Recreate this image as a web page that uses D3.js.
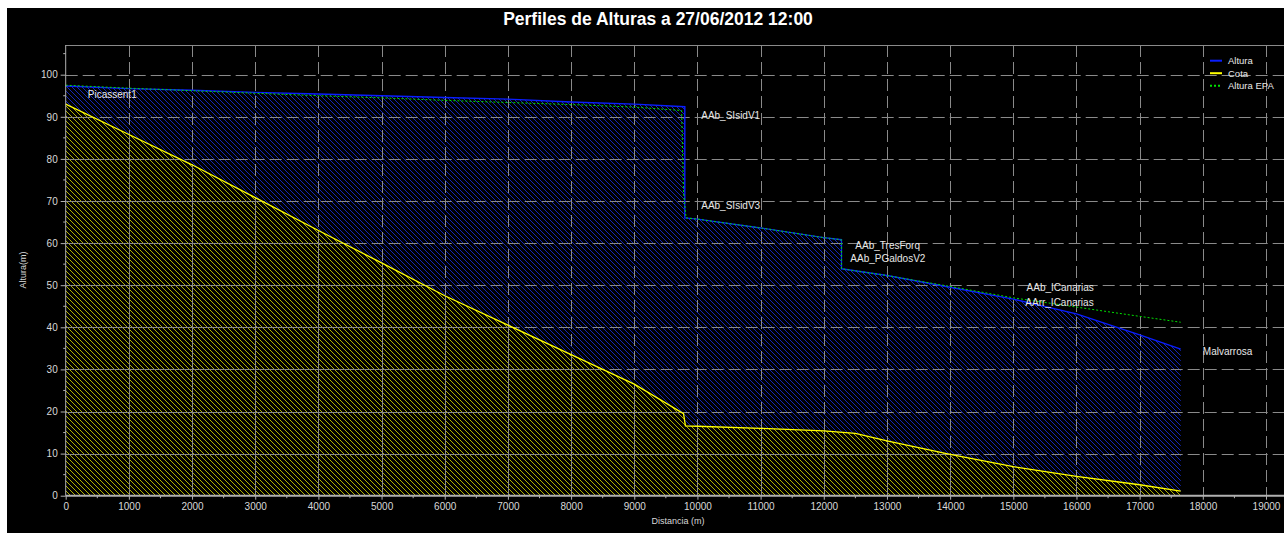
<!DOCTYPE html>
<html>
<head>
<meta charset="utf-8">
<script src="https://cdn.jsdelivr.net/npm/d3@7"></script>
<style>
body { margin: 0; background: #fff; }
svg { display: block; font-family: "Liberation Sans", Arial, sans-serif; }
</style>
</head>
<body>
<svg id="chart" width="1284" height="533"></svg>
<script>
// distancia (m) / altura (m)
var alturaDist = [0, 1000, 2000, 3000, 4000, 5000, 6000, 7000, 8000, 9000, 9800, 9800, 10000, 11000, 12000, 12280, 12280, 13000, 14000, 15000, 16000, 17000, 17650];
var alturaVal  = [97.3, 96.7, 96.3, 95.8, 95.4, 95.0, 94.6, 94.2, 93.5, 93.0, 92.4, 66.0, 65.7, 63.6, 61.3, 60.8, 53.9, 52.3, 49.5, 46.7, 43.2, 38.2, 34.8];

var epaDist = [0, 1000, 2000, 3000, 4000, 5000, 6000, 7000, 8000, 9000, 9750, 9780, 9820, 10000, 11000, 12000, 12280, 12280, 13000, 14000, 15000, 16000, 17000, 17650];
var epaVal  = [97.5, 96.8, 96.2, 95.6, 95.0, 94.5, 93.9, 93.4, 92.9, 92.3, 91.5, 72.0, 66.0, 65.7, 63.6, 61.3, 60.8, 53.9, 52.3, 49.7, 47.0, 44.8, 42.6, 41.2];

var cotaDist = [0, 1000, 2000, 3000, 4000, 5000, 6000, 7000, 8000, 9000, 9780, 9810, 10000, 11000, 12000, 12500, 13000, 14000, 15000, 16000, 17000, 17650];
var cotaVal  = [93.0, 85.8, 78.6, 70.8, 63.0, 55.3, 47.5, 40.5, 33.5, 26.5, 19.5, 16.6, 16.5, 16.0, 15.4, 14.8, 13.0, 9.8, 6.9, 4.6, 2.6, 1.1];

// node labels: name, distance, height where the label sits
var nodeNames = ["Picassent1", "AAb_SIsidV1", "AAb_SIsidV3", "AAb_TresForq", "AAb_PGaldosV2", "AAb_ICanarias", "AArr_ICanarias", "Malvarrosa"];
var nodeDist  = [350, 10060, 10060, 12500, 12420, 15210, 15190, 18000];
var nodeAlt   = [94.5, 89.5, 68.0, 58.7, 55.5, 48.7, 45.0, 33.4];

var xTicks = d3.range(0, 19001, 1000);
var yTicks = d3.range(0, 101, 10);
var legendNames = ["Altura", "Cota", "Altura EPA"];

var svg = d3.select("#chart");
var W = 1284, H = 533;
var plotL = 65.7, plotR = 1284, plotT = 45, plotB = 495.7;

var x = d3.scaleLinear().domain([0, 19000]).range([plotL, 1266]);
var y = d3.scaleLinear().domain([0, 100]).range([plotB, 74.7]);

svg.append("rect").attr("x", 7).attr("y", 8).attr("width", W - 7).attr("height", H - 8).attr("fill", "#000");

var defs = svg.append("defs");
function hatch(id, color) {
	var p = defs.append("pattern").attr("id", id)
		.attr("patternUnits", "userSpaceOnUse").attr("width", 5).attr("height", 5);
	p.append("path").attr("d", "M-1,-1 L6,6 M4,-1 L6,1 M-1,4 L1,6")
		.attr("stroke", color).attr("stroke-width", 1).attr("shape-rendering", "crispEdges");
}
hatch("hBlue", "#1528b8");
hatch("hYellow", "#b0b000");

function pts(ds, vs) { return ds.map(function(d, i) { return [d, vs[i]]; }); }
var altura = pts(alturaDist, alturaVal);
var epa = pts(epaDist, epaVal);
var cota = pts(cotaDist, cotaVal);

var area = d3.area().x(function(d){ return x(d[0]); }).y0(y(0)).y1(function(d){ return y(d[1]); });
var line = d3.line().x(function(d){ return x(d[0]); }).y(function(d){ return y(d[1]); });

defs.append("clipPath").attr("id", "cotaClip").append("path").attr("d", area(cota));

// fills
svg.append("path").attr("d", area(altura)).attr("fill", "url(#hBlue)");
svg.append("path").attr("d", area(cota)).attr("fill", "url(#hYellow)");

// grid
function drawGrid(g, dash) {
	g.selectAll(".gx").data(xTicks.slice(1)).enter().append("line").attr("class", "gx")
		.attr("x1", function(d){ return Math.round(x(d)) + 0.5; }).attr("x2", function(d){ return Math.round(x(d)) + 0.5; })
		.attr("y1", plotT).attr("y2", plotB).attr("stroke-dasharray", dash);
	g.selectAll(".gy").data(yTicks.slice(1)).enter().append("line").attr("class", "gy")
		.attr("y1", function(d){ return Math.round(y(d)) + 0.5; }).attr("y2", function(d){ return Math.round(y(d)) + 0.5; })
		.attr("x1", plotL).attr("x2", plotR).attr("stroke-dasharray", dash);
}
drawGrid(svg.append("g").attr("stroke", "#8a8a8a"), "12,5");
drawGrid(svg.append("g").attr("stroke", "#8a8a8a").attr("clip-path", "url(#cotaClip)"), null);

// lines
svg.append("path").attr("d", line(altura)).attr("fill", "none").attr("stroke", "#0a1eff").attr("stroke-width", 1.4);
svg.append("path").attr("d", line(cota)).attr("fill", "none").attr("stroke", "#ffff00").attr("stroke-width", 1.3);
svg.append("path").attr("d", line(epa)).attr("fill", "none").attr("stroke", "#00e000").attr("stroke-width", 1).attr("stroke-dasharray", "2,2");

// plot frame top line
svg.append("line").attr("x1", plotL).attr("x2", plotR).attr("y1", plotT + 0.5).attr("y2", plotT + 0.5).attr("stroke", "#8a8a8a");

// axes
var xAxis = d3.axisBottom(x).tickValues(xTicks).tickSize(4).tickPadding(3).tickFormat(d3.format("d"));
var gx = svg.append("g").attr("transform", "translate(0," + plotB + ")").call(xAxis);
var yAxis = d3.axisLeft(y).tickValues(yTicks).tickSize(5).tickPadding(3);
var gy = svg.append("g").attr("transform", "translate(" + plotL + ",0)").call(yAxis);
[gx, gy].forEach(function(g) {
	g.select(".domain").attr("stroke", "#b0b0b0");
	g.selectAll(".tick line").attr("stroke", "#b0b0b0");
	g.selectAll("text").attr("fill", "#d8d8d8").attr("font-size", 10).attr("font-family", "Liberation Sans, Arial, sans-serif");
});
gx.select(".domain").attr("stroke-width", 2).attr("d", "M" + plotL + ",0H" + plotR);
gy.select(".domain").attr("d", "M0," + plotT + "V" + plotB);

// minor ticks
svg.append("g").selectAll("line").data(d3.range(500, 19500, 1000)).enter().append("line")
	.attr("x1", function(d){ return x(d); }).attr("x2", function(d){ return x(d); })
	.attr("y1", plotB).attr("y2", plotB + 2.5).attr("stroke", "#b0b0b0");
svg.append("g").selectAll("line").data(d3.range(5, 106, 10)).enter().append("line")
	.attr("x1", plotL - 2.5).attr("x2", plotL).attr("y1", function(d){ return y(d); }).attr("y2", function(d){ return y(d); })
	.attr("stroke", "#b0b0b0");

// node labels
svg.append("g").selectAll("text").data(nodeNames).enter().append("text")
	.attr("x", function(d, i){ return x(nodeDist[i]); })
	.attr("y", function(d, i){ return y(nodeAlt[i]); })
	.attr("fill", "#e8e8e8").attr("font-size", 10).text(function(d){ return d; });

// title and axis titles
svg.append("text").attr("x", 658).attr("y", 25).attr("text-anchor", "middle")
	.attr("fill", "#fff").attr("font-weight", "bold").attr("font-size", 17.5)
	.attr("font-family", "Liberation Sans, Arial, sans-serif")
	.text("Perfiles de Alturas a 27/06/2012 12:00");
svg.append("text").attr("x", 678).attr("y", 524).attr("text-anchor", "middle")
	.attr("fill", "#d8d8d8").attr("font-size", 9).text("Distancia (m)");
svg.append("text").attr("transform", "translate(26,270) rotate(-90)").attr("text-anchor", "middle")
	.attr("fill", "#d8d8d8").attr("font-size", 9).text("Altura(m)");

// legend
var legColors = ["#0a1eff", "#ffff00", "#00e000"];
var leg = svg.append("g").attr("transform", "translate(1210,60.7)");
legendNames.forEach(function(n, i) {
	var gi = leg.append("g").attr("transform", "translate(0," + (i * 12.5) + ")");
	gi.append("line").attr("x1", 0).attr("x2", 12).attr("y1", 0).attr("y2", 0)
		.attr("stroke", legColors[i]).attr("stroke-width", 2)
		.attr("stroke-dasharray", i == 2 ? "2,2" : null);
	gi.append("text").attr("x", 18).attr("y", 3.5).attr("fill", "#e8e8e8").attr("font-size", 9.5).text(n);
});
</script>
</body>
</html>
